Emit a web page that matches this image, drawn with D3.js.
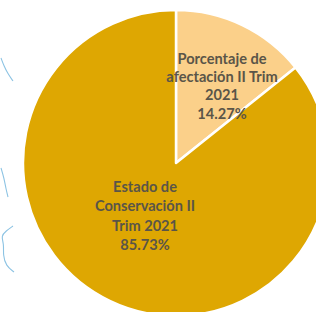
<!DOCTYPE html>
<html>
<head>
<meta charset="utf-8">
<script src="https://cdn.jsdelivr.net/npm/d3@7"></script>
<style>
  html, body { margin: 0; padding: 0; background: #fff; }
  svg { display: block; }
</style>
</head>
<body>
<div id="chart"></div>
<script>
// slices, clockwise from 12 o'clock
const labels = [
  ["Porcentaje de", "afectación II Trim", "2021", "14.27%"],
  ["Estado de", "Conservación II", "Trim 2021", "85.73%"]
];
const values = [14.27, 85.73];
const colors = ["#fbd08a", "#dea702"];

// faint map outline bits on the left edge of the scan
const mapLines = [
  [[1, 58], [4, 66], [8, 74], [13, 81]],
  [[1, 168], [4, 178], [6, 189], [8, 197]],
  [[13, 226], [6, 231], [1, 236], [4, 244], [3, 255], [6, 266], [14, 272]]
];

let w = 316,
    h = 312;

let svg = d3.select('#chart').append('svg')
    .attr('width', w)
    .attr('height', h)

let cx = 176, cy = 163, r = 153;

svg.append('g')
    .selectAll('path')
    .data(mapLines)
    .enter().append('path')
    .attr('d', d3.line().curve(d3.curveBasis))
    .attr('fill', 'none')
    .attr('stroke', '#8cc3e3')
    .attr('stroke-width', 1.1)

let pie = d3.pie().sort(null).value(d => d)
let arcs = pie(values)

let arc = d3.arc().innerRadius(0).outerRadius(r)

let g = svg.append('g').attr('transform', `translate(${cx},${cy})`)

g.selectAll('path')
    .data(arcs)
    .enter().append('path')
    .attr('d', arc)
    .attr('fill', (d, i) => colors[i])
    .attr('stroke', '#fff')
    .attr('stroke-width', 2.5)
    .attr('stroke-linejoin', 'round')

// label centres, relative to pie centre
let labelPos = [[46, -77], [-31, 53]];
let lineH = [18.3, 19.5];

let txt = g.selectAll('text')
    .data(arcs)
    .enter().append('text')
    .attr('text-anchor', 'middle')
    .attr('font-family', 'Lato, "Open Sans", sans-serif')
    .attr('font-weight', 'bold')
    .attr('font-size', 14.6)
    .attr('fill', '#5a5548')

txt.each(function(d, i) {
    let lines = labels[i];
    let n = lines.length;
    d3.select(this).selectAll('tspan')
        .data(lines)
        .enter().append('tspan')
        .attr('x', labelPos[i][0])
        .attr('y', (s, k) => labelPos[i][1] + (k - (n - 1) / 2) * lineH[i])
        .attr('dy', '0.35em')
        .text(s => s)
})
</script>
</body>
</html>
